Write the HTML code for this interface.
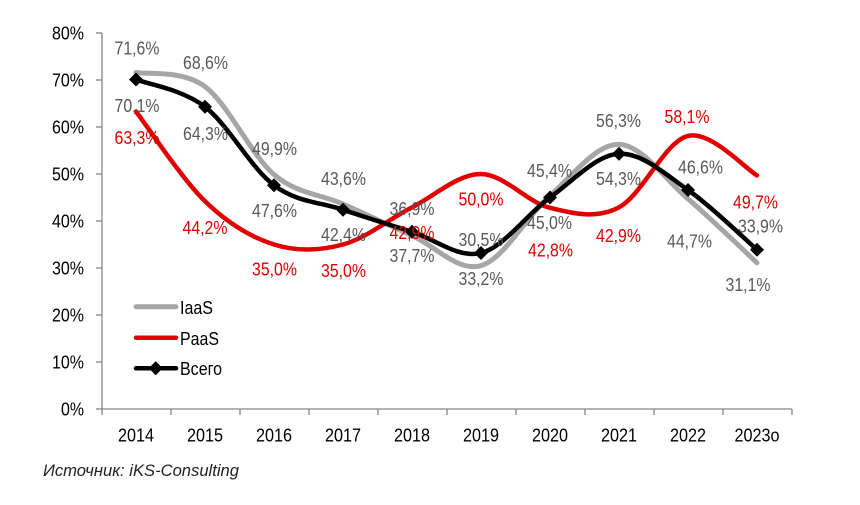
<!DOCTYPE html>
<html><head><meta charset="utf-8"><style>
html,body{margin:0;padding:0;background:#fff;}
svg{display:block;}
text{font-family:"Liberation Sans",Arial,sans-serif;font-size:18px;}
.g{fill:#595959;text-anchor:middle;}
.r{fill:#e00000;text-anchor:middle;}
.yl{fill:#000;text-anchor:end;}
.xl{fill:#000;text-anchor:middle;}
</style></head><body>
<svg width="860" height="505" viewBox="0 0 860 505" xmlns="http://www.w3.org/2000/svg">
<rect width="860" height="505" fill="#fff"/>
<!-- axes -->
<g stroke="#868686" stroke-width="1.3" fill="none">
<line x1="102" y1="33" x2="102" y2="409"/>
<line x1="102" y1="409" x2="792" y2="409"/>
<line x1="96" y1="409" x2="102" y2="409"/>
<line x1="96" y1="362" x2="102" y2="362"/>
<line x1="96" y1="315" x2="102" y2="315"/>
<line x1="96" y1="268" x2="102" y2="268"/>
<line x1="96" y1="221" x2="102" y2="221"/>
<line x1="96" y1="174" x2="102" y2="174"/>
<line x1="96" y1="127" x2="102" y2="127"/>
<line x1="96" y1="80" x2="102" y2="80"/>
<line x1="96" y1="33" x2="102" y2="33"/>
<line x1="102" y1="409" x2="102" y2="415"/>
<line x1="171" y1="409" x2="171" y2="415"/>
<line x1="240" y1="409" x2="240" y2="415"/>
<line x1="309" y1="409" x2="309" y2="415"/>
<line x1="378" y1="409" x2="378" y2="415"/>
<line x1="447" y1="409" x2="447" y2="415"/>
<line x1="516" y1="409" x2="516" y2="415"/>
<line x1="585" y1="409" x2="585" y2="415"/>
<line x1="654" y1="409" x2="654" y2="415"/>
<line x1="723" y1="409" x2="723" y2="415"/>
<line x1="792" y1="409" x2="792" y2="415"/>
</g>
<!-- y labels -->
<text class="yl" x="84" y="415.5" textLength="23" lengthAdjust="spacingAndGlyphs">0%</text>
<text class="yl" x="84" y="368.5" textLength="32" lengthAdjust="spacingAndGlyphs">10%</text>
<text class="yl" x="84" y="321.5" textLength="32" lengthAdjust="spacingAndGlyphs">20%</text>
<text class="yl" x="84" y="274.5" textLength="32" lengthAdjust="spacingAndGlyphs">30%</text>
<text class="yl" x="84" y="227.5" textLength="32" lengthAdjust="spacingAndGlyphs">40%</text>
<text class="yl" x="84" y="180.5" textLength="32" lengthAdjust="spacingAndGlyphs">50%</text>
<text class="yl" x="84" y="133.5" textLength="32" lengthAdjust="spacingAndGlyphs">60%</text>
<text class="yl" x="84" y="86.5" textLength="32" lengthAdjust="spacingAndGlyphs">70%</text>
<text class="yl" x="84" y="39.5" textLength="32" lengthAdjust="spacingAndGlyphs">80%</text>
<!-- x labels -->
<text class="xl" x="136" y="441.5" textLength="36" lengthAdjust="spacingAndGlyphs">2014</text>
<text class="xl" x="205" y="441.5" textLength="36" lengthAdjust="spacingAndGlyphs">2015</text>
<text class="xl" x="274" y="441.5" textLength="36" lengthAdjust="spacingAndGlyphs">2016</text>
<text class="xl" x="343" y="441.5" textLength="36" lengthAdjust="spacingAndGlyphs">2017</text>
<text class="xl" x="412" y="441.5" textLength="36" lengthAdjust="spacingAndGlyphs">2018</text>
<text class="xl" x="481" y="441.5" textLength="36" lengthAdjust="spacingAndGlyphs">2019</text>
<text class="xl" x="550" y="441.5" textLength="36" lengthAdjust="spacingAndGlyphs">2020</text>
<text class="xl" x="619" y="441.5" textLength="36" lengthAdjust="spacingAndGlyphs">2021</text>
<text class="xl" x="688" y="441.5" textLength="36" lengthAdjust="spacingAndGlyphs">2022</text>
<text class="xl" x="757" y="441.5" textLength="45" lengthAdjust="spacingAndGlyphs">2023о</text>
<!-- IaaS -->
<path fill="none" stroke="#a6a6a6" stroke-width="5" stroke-linecap="round" stroke-linejoin="round"
d="M136,72.48 C147.5,74.83 182,69.58 205,86.58 C228,103.58 251,154.89 274,174.47 C297,194.05 320,193.9 343,204.08 C366,214.26 389,225.31 412,235.57 C435,245.83 458,272.31 481,265.65 C504,258.99 527,215.83 550,195.62 C573,175.41 596,143.84 619,144.39 C642,144.94 665,179.17 688,198.91 C711,218.65 745.5,252.18 757,262.83"/>
<!-- PaaS -->
<path fill="none" stroke="#e00000" stroke-width="4.5" stroke-linecap="round" stroke-linejoin="round"
d="M136,111.49 C147.5,126.45 182,179.09 205,201.26 C228,223.43 251,237.29 274,244.5 C297,251.71 320,250.69 343,244.5 C366,238.31 389,219.12 412,207.37 C435,195.62 458,173.92 481,174 C504,174.08 527,202.28 550,207.84 C573,213.4 596,219.36 619,207.37 C642,195.38 665,141.26 688,135.93 C711,130.6 745.5,168.83 757,175.41"/>
<!-- Всего -->
<path fill="none" stroke="#000" stroke-width="4.5" stroke-linecap="round" stroke-linejoin="round"
d="M136,79.53 C147.5,84.07 182,89.16 205,106.79 C228,124.42 251,168.12 274,185.28 C297,202.44 320,201.96 343,209.72 C366,217.48 389,224.6 412,231.81 C435,239.02 458,258.68 481,252.96 C504,247.24 527,214.03 550,197.5 C573,180.97 596,155.04 619,153.79 C642,152.54 665,174 688,189.98 C711,205.96 745.5,239.72 757,249.67"/>
<g fill="#000">
<path d="M136,72.5 L143,79.5 L136,86.5 L129,79.5Z"/>
<path d="M205,99.8 L212,106.8 L205,113.8 L198,106.8Z"/>
<path d="M274,178.3 L281,185.3 L274,192.3 L267,185.3Z"/>
<path d="M343,202.7 L350,209.7 L343,216.7 L336,209.7Z"/>
<path d="M412,224.8 L419,231.8 L412,238.8 L405,231.8Z"/>
<path d="M481,246 L488,253 L481,260 L474,253Z"/>
<path d="M550,190.5 L557,197.5 L550,204.5 L543,197.5Z"/>
<path d="M619,146.8 L626,153.8 L619,160.8 L612,153.8Z"/>
<path d="M688,183 L695,190 L688,197 L681,190Z"/>
<path d="M757,242.7 L764,249.7 L757,256.7 L750,249.7Z"/>
</g>
<!-- data labels gray -->
<g class="g">
<text class="g" x="137" y="54.5" textLength="45" lengthAdjust="spacingAndGlyphs">71,6%</text>
<text class="g" x="205.5" y="69" textLength="45" lengthAdjust="spacingAndGlyphs">68,6%</text>
<text class="g" x="137" y="112" textLength="45" lengthAdjust="spacingAndGlyphs">70,1%</text>
<text class="g" x="205.5" y="140" textLength="45" lengthAdjust="spacingAndGlyphs">64,3%</text>
<text class="g" x="274.5" y="155" textLength="45" lengthAdjust="spacingAndGlyphs">49,9%</text>
<text class="g" x="274.5" y="217" textLength="45" lengthAdjust="spacingAndGlyphs">47,6%</text>
<text class="g" x="343.5" y="185" textLength="45" lengthAdjust="spacingAndGlyphs">43,6%</text>
<text class="g" x="343.5" y="241" textLength="45" lengthAdjust="spacingAndGlyphs">42,4%</text>
<text class="g" x="412" y="215" textLength="45" lengthAdjust="spacingAndGlyphs">36,9%</text>
<text class="g" x="412" y="262" textLength="45" lengthAdjust="spacingAndGlyphs">37,7%</text>
<text class="g" x="481" y="246" textLength="45" lengthAdjust="spacingAndGlyphs">30,5%</text>
<text class="g" x="481" y="285" textLength="45" lengthAdjust="spacingAndGlyphs">33,2%</text>
<text class="g" x="549.5" y="177" textLength="45" lengthAdjust="spacingAndGlyphs">45,4%</text>
<text class="g" x="549.5" y="229" textLength="45" lengthAdjust="spacingAndGlyphs">45,0%</text>
<text class="g" x="618.5" y="127" textLength="45" lengthAdjust="spacingAndGlyphs">56,3%</text>
<text class="g" x="618.5" y="185" textLength="45" lengthAdjust="spacingAndGlyphs">54,3%</text>
<text class="g" x="700.5" y="173.5" textLength="45" lengthAdjust="spacingAndGlyphs">46,6%</text>
<text class="g" x="689.5" y="247.5" textLength="45" lengthAdjust="spacingAndGlyphs">44,7%</text>
<text class="g" x="760.5" y="232.5" textLength="45" lengthAdjust="spacingAndGlyphs">33,9%</text>
<text class="g" x="748" y="291" textLength="45" lengthAdjust="spacingAndGlyphs">31,1%</text>
</g>
<!-- data labels red -->
<text class="r" x="137" y="144" textLength="45" lengthAdjust="spacingAndGlyphs">63,3%</text>
<text class="r" x="205" y="234" textLength="45" lengthAdjust="spacingAndGlyphs">44,2%</text>
<text class="r" x="274.5" y="275.5" textLength="45" lengthAdjust="spacingAndGlyphs">35,0%</text>
<text class="r" x="343.5" y="277" textLength="45" lengthAdjust="spacingAndGlyphs">35,0%</text>
<text class="r" x="412" y="239" textLength="45" lengthAdjust="spacingAndGlyphs">42,9%</text>
<text class="r" x="481" y="205.5" textLength="45" lengthAdjust="spacingAndGlyphs">50,0%</text>
<text class="r" x="550.5" y="256.5" textLength="45" lengthAdjust="spacingAndGlyphs">42,8%</text>
<text class="r" x="618.5" y="242" textLength="45" lengthAdjust="spacingAndGlyphs">42,9%</text>
<text class="r" x="687" y="123" textLength="45" lengthAdjust="spacingAndGlyphs">58,1%</text>
<text class="r" x="755.5" y="208.5" textLength="45" lengthAdjust="spacingAndGlyphs">49,7%</text>
<!-- legend -->
<line x1="136" y1="306.7" x2="176" y2="306.7" stroke="#a6a6a6" stroke-width="5" stroke-linecap="round"/>
<text x="180" y="314" fill="#000" textLength="33" lengthAdjust="spacingAndGlyphs">IaaS</text>
<line x1="136" y1="337.7" x2="176" y2="337.7" stroke="#e00000" stroke-width="4.5" stroke-linecap="round"/>
<text x="180" y="345" fill="#000" textLength="39" lengthAdjust="spacingAndGlyphs">PaaS</text>
<line x1="136" y1="368.3" x2="176" y2="368.3" stroke="#000" stroke-width="4.5" stroke-linecap="round"/>
<path d="M155.7,361.3 L162.7,368.3 L155.7,375.3 L148.7,368.3Z" fill="#000"/>
<text x="180" y="375" fill="#000" textLength="42" lengthAdjust="spacingAndGlyphs">Всего</text>
<!-- source -->
<text x="43" y="476" fill="#222" font-style="italic" font-size="17" style="font-size:17px" textLength="196" lengthAdjust="spacingAndGlyphs">Источник: iKS-Consulting</text>
</svg>
</body></html>
